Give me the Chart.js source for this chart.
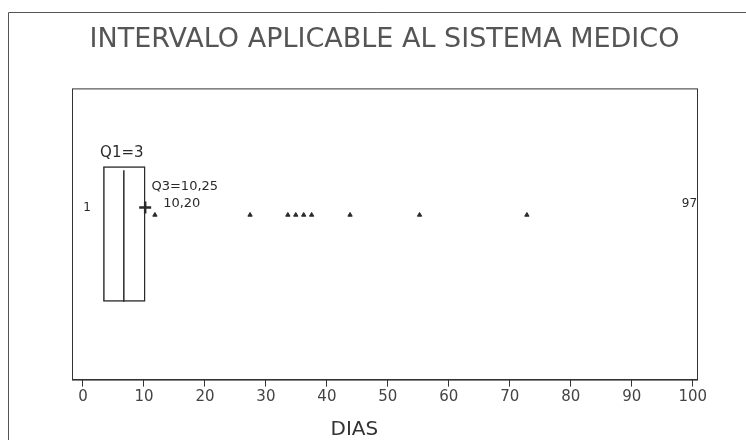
<!DOCTYPE html>
<html>
<head>
<meta charset="utf-8">
<script src="https://cdn.jsdelivr.net/npm/chart.js@4/dist/chart.umd.min.js"></script>
<style>
  body { margin: 0; background: #fff; }
  #wrap { width: 746px; height: 440px; }
</style>
</head>
<body>
<div id="wrap"><canvas id="boxChart" width="746" height="440"></canvas></div>
<script>
// datos (dias)
const tickValues = [0, 10, 20, 30, 40, 50, 60, 70, 80, 90, 100];
const quartiles = [3.3, 6.7, 10.25];          // Q1, mediana, Q3
const meanDias = [10.2];
const puntosDias = [11.8, 27.4, 33.6, 34.9, 36.2, 37.5, 43.8, 55.2, 72.8];
const extremos = [1, 97];                       // minimo, maximo
const boxLabels = ['Q1=3', 'Q3=10,25', '10,20'];

const ink = '#2a2a2a';

const decor = {
  id: 'decor',
  beforeDraw(chart) {
    const ctx = chart.ctx;
    ctx.save();
    ctx.strokeStyle = '#555';
    ctx.lineWidth = 1;
    ctx.beginPath();
    ctx.moveTo(8.5, 440);
    ctx.lineTo(8.5, 12.5);
    ctx.lineTo(746, 12.5);
    ctx.stroke();
    ctx.restore();
  },
  afterDatasetsDraw(chart) {
    const ctx = chart.ctx;
    const a = chart.chartArea;
    const x = chart.scales.x;
    const bar = chart.getDatasetMeta(0).data[1];
    ctx.save();
    // marco del area
    ctx.strokeStyle = '#333';
    ctx.lineWidth = 1;
    ctx.strokeRect(a.left + 0.5, a.top + 0.5, a.right - a.left, a.bottom - a.top);
    // mediana
    const top = bar.y - bar.height / 2;
    const bot = bar.y + bar.height / 2;
    const mx = x.getPixelForValue(quartiles[1]);
    ctx.strokeStyle = ink;
    ctx.lineWidth = 1.5;
    ctx.beginPath();
    ctx.moveTo(mx, top + 4);
    ctx.lineTo(mx, bot);
    ctx.stroke();
    // etiquetas
    ctx.fillStyle = ink;
    ctx.textBaseline = 'middle';
    ctx.font = '15px "DejaVu Sans"';
    ctx.textAlign = 'center';
    ctx.fillText(boxLabels[0], x.getPixelForValue(quartiles[1]) - 2, top - 13);
    ctx.font = '13px "DejaVu Sans"';
    ctx.textAlign = 'left';
    ctx.fillText(boxLabels[1], x.getPixelForValue(quartiles[2]) + 6, top + 20);
    ctx.fillText(boxLabels[2], x.getPixelForValue(meanDias[0]) + 18, top + 37);
    ctx.font = '12px "DejaVu Sans"';
    ctx.textAlign = 'center';
    ctx.fillText(String(extremos[0]), x.getPixelForValue(extremos[0]) - 2, 208);
    ctx.fillText(String(extremos[1]), x.getPixelForValue(extremos[1]) + 15, 204);
    // eje: titulo
    ctx.font = '20px "DejaVu Sans"';
    ctx.fillStyle = '#333';
    ctx.fillText('DIAS', x.getPixelForValue(44.5), 430);
    ctx.restore();
  }
};

new Chart(document.getElementById('boxChart'), {
  type: 'bar',
  data: {
    labels: ['', 'DIAS', ''],
    datasets: [
      {
        type: 'bar',
        data: [null, [quartiles[0], quartiles[2]], null],
        backgroundColor: 'rgba(0,0,0,0)',
        borderColor: ink,
        borderWidth: 1.5,
        borderSkipped: false,
        grouped: false,
        barPercentage: 0.93,
        categoryPercentage: 1
      },
      {
        type: 'scatter',
        indexAxis: 'x',
        xAxisID: 'x',
        yAxisID: 'yp',
        data: meanDias.map(v => ({ x: v, y: 0.6 })),
        pointStyle: 'cross',
        radius: 6,
        borderWidth: 2.5,
        borderColor: ink
      },
      {
        type: 'scatter',
        indexAxis: 'x',
        xAxisID: 'x',
        yAxisID: 'yp',
        data: puntosDias.map(v => ({ x: v, y: 0.572 })),
        pointStyle: 'triangle',
        radius: 2.5,
        borderWidth: 1,
        borderColor: ink,
        backgroundColor: ink
      }
    ]
  },
  options: {
    indexAxis: 'y',
    responsive: false,
    animation: false,
    layout: { padding: { left: 72, right: 49, bottom: 0 } },
    plugins: {
      legend: { display: false },
      tooltip: { enabled: false },
      title: {
        display: true,
        text: 'INTERVALO APLICABLE AL SISTEMA MEDICO',
        color: '#555',
        font: { family: 'DejaVu Sans', size: 27, weight: 'normal' },
        padding: { top: 24, bottom: 32 }
      }
    },
    scales: {
      x: {
        type: 'linear',
        position: 'bottom',
        min: -1.8,
        max: 100.7,
        afterBuildTicks: s => { s.ticks = tickValues.map(v => ({ value: v })); },
        grid: { drawOnChartArea: false, drawTicks: true, tickLength: 7, color: '#333' },
        border: { display: true, color: '#333' },
        ticks: { color: '#444', padding: 2, font: { family: 'DejaVu Sans', size: 15 } },
        title: { display: true, text: ' ', font: { size: 17 }, padding: { top: 11, bottom: 0 } }
      },
      y: { type: 'category', display: false, offset: false },
      yp: { type: 'linear', axis: 'y', min: 0, max: 1, display: false }
    }
  },
  plugins: [decor]
});
</script>
</body>
</html>
